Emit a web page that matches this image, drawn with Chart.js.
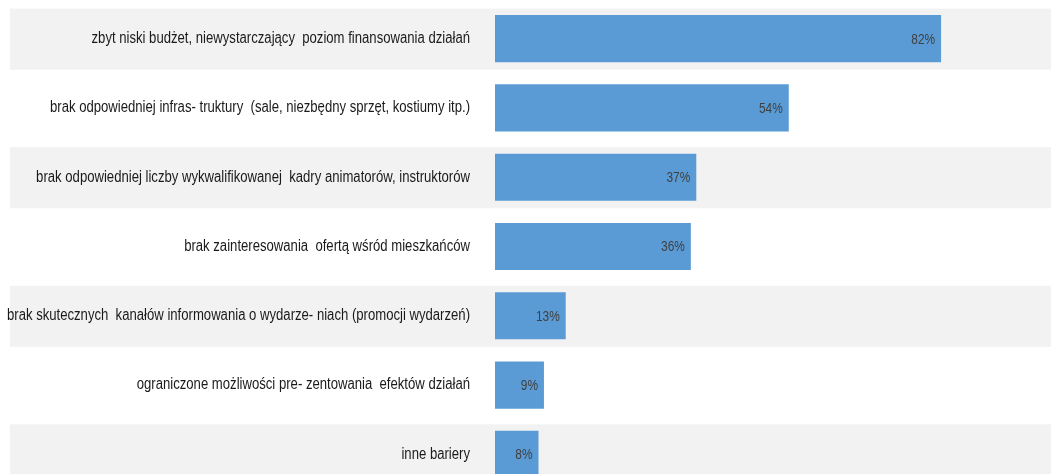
<!DOCTYPE html>
<html>
<head>
<meta charset="utf-8">
<script src="https://cdn.jsdelivr.net/npm/chart.js@4"></script>
<style>
  html, body { margin: 0; padding: 0; background: #fff; overflow: hidden; height: 474px; }
  #wrap { width: 1051px; height: 490px; position: relative; }
</style>
</head>
<body>
<div id="wrap"><canvas id="barrierChart"></canvas></div>
<script>
// bariery w działalności - dane
const categories = [
    'zbyt niski budżet, niewystarczający  poziom finansowania działań',
    'brak odpowiedniej infras- truktury  (sale, niezbędny sprzęt, kostiumy itp.)',
    'brak odpowiedniej liczby wykwalifikowanej  kadry animatorów, instruktorów',
    'brak zainteresowania  ofertą wśród mieszkańców',
    'brak skutecznych  kanałów informowania o wydarze- niach (promocji wydarzeń)',
    'ograniczone możliwości pre- zentowania  efektów działań',
    'inne bariery'
];
const values = [82, 54, 37, 36, 13, 9, 8];

// brak Arial Narrow - zwężamy Liberation Sans
const fontFamily = '"Liberation Sans", Arial, sans-serif';

function narrowText(c, text, x, y, squeeze) {
    c.save();
    c.translate(x, y);
    c.scale(squeeze, 1);
    c.fillText(text, 0, 0);
    c.restore();
}

// szare pasy co drugi wiersz
const bandsPlugin = {
    id: 'bands',
    beforeDatasetsDraw(chart) {
        const c = chart.ctx;
        const y = chart.scales.y;
        c.save();
        c.fillStyle = '#f2f2f2';
        for (let i = 0; i < categories.length; i += 2) {
            const py = y.getPixelForValue(i);
            c.fillRect(10, py - 30, chart.width - 10, 61);
        }
        c.restore();
    }
};

// opisy kategorii i wartości
const textPlugin = {
    id: 'texts',
    afterDatasetsDraw(chart) {
        const c = chart.ctx;
        const y = chart.scales.y;
        const meta = chart.getDatasetMeta(0);
        c.save();
        c.textAlign = 'right';
        c.textBaseline = 'middle';
        c.font = '16px ' + fontFamily;
        c.fillStyle = '#1a1a1a';
        categories.forEach((lab, i) => {
            narrowText(c, lab, chart.chartArea.left - 25, y.getPixelForValue(i), 0.82);
        });
        c.font = '14px ' + fontFamily;
        c.fillStyle = '#404040';
        meta.data.forEach((bar, i) => {
            narrowText(c, values[i] + '%', bar.x - 6, bar.y + 1, 0.85);
        });
        c.restore();
    }
};

const ctx = document.getElementById('barrierChart').getContext('2d');

const config = {
    type: 'bar',
    data: {
        labels: categories,
        datasets: [{
            data: values,
            backgroundColor: '#5b9bd5',
            borderWidth: 0,
            barPercentage: 0.68,
            categoryPercentage: 1
        }]
    },
    options: {
        indexAxis: 'y',
        responsive: true,
        maintainAspectRatio: false,
        animation: false,
        layout: { padding: { top: 4, bottom: 1, right: 12, left: 0 } },
        plugins: {
            legend: { display: false },
            tooltip: { enabled: false }
        },
        scales: {
            x: {
                display: false,
                min: 0,
                max: 100
            },
            y: {
                grid: { display: false },
                border: { display: false },
                ticks: { display: false },
                afterFit(scale) { scale.width = 495; }
            }
        }
    },
    plugins: [bandsPlugin, textPlugin]
};

const barrierChart = new Chart(ctx, config);
</script>
</body>
</html>
